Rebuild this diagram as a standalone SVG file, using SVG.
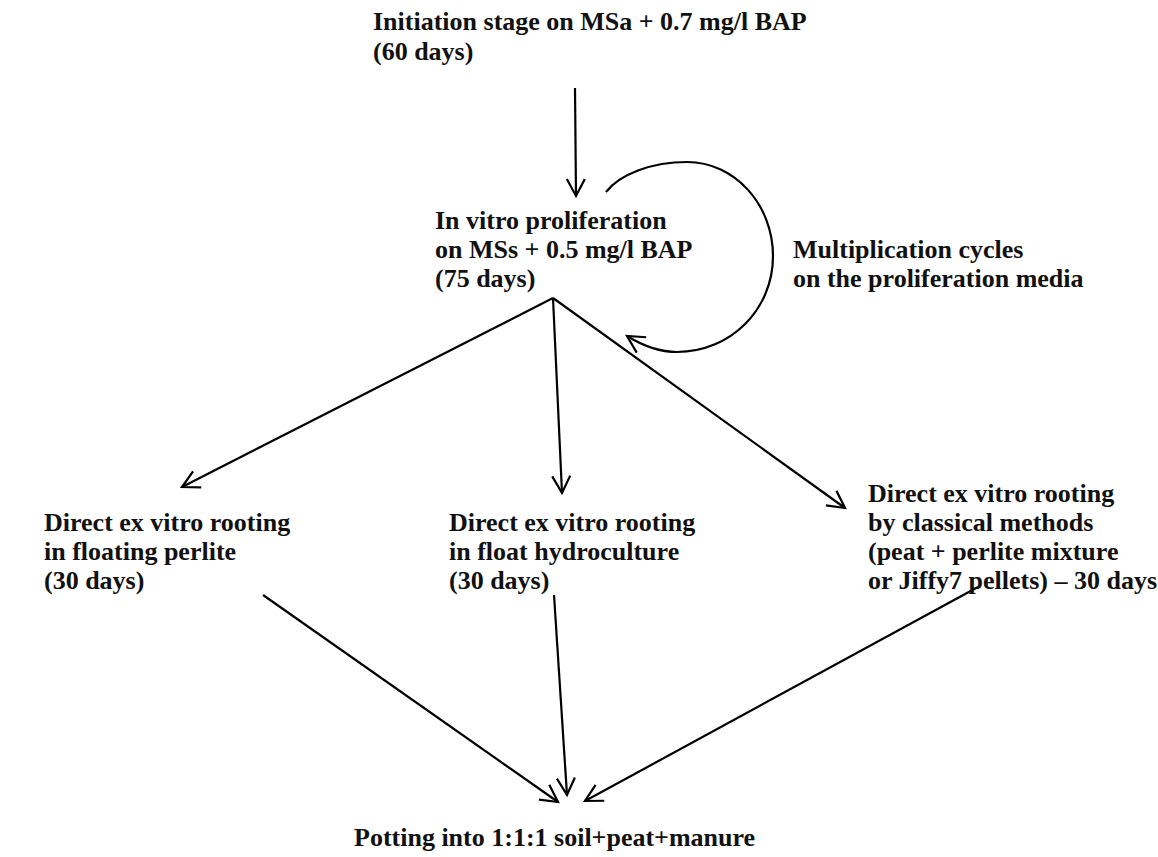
<svg xmlns="http://www.w3.org/2000/svg" width="1158" height="857" viewBox="0 0 1158 857">
<style>
text{font-family:"Liberation Serif","Times New Roman",serif;font-weight:bold;font-size:26px;fill:#111}
.c{fill:none;stroke:#000;stroke-width:2.2;marker-end:url(#ah)}
</style>
<defs>
<marker id="ah" markerUnits="userSpaceOnUse" markerWidth="40" markerHeight="40" viewBox="-20 -20 40 40" refX="0" refY="0" orient="auto">
<path d="M-17,-9 L0,0 L-17,9" fill="none" stroke="#000" stroke-width="2.2"/>
</marker>
</defs>
<rect width="1158" height="857" fill="#fff"/>
<g id="connectors">
<path class="c" d="M575,88 L576,196"/>
<path class="c" d="M606,192 C620,174 652,162 687,162 C735,162 773,205 773,256 C773,310 730,352 677,352 C658,352 640,344 627,336"/>
<path class="c" d="M553,298 L182,487"/>
<path class="c" d="M553,298 L562,493"/>
<path class="c" d="M553,298 L845,508"/>
<path class="c" d="M263,595 L558,802"/>
<path class="c" d="M554,595 L567,795"/>
<path class="c" d="M978,587 L585,801"/>
</g>
<g id="n-initiation">
<text x="373" y="30">Initiation stage on MSa + 0.7 mg/l BAP</text>
<text x="373" y="60">(60 days)</text>
</g>
<g id="n-proliferation">
<text x="435" y="229">In vitro proliferation</text>
<text x="435" y="258">on MSs + 0.5 mg/l BAP</text>
<text x="435" y="287">(75 days)</text>
</g>
<g id="n-cycles">
<text x="793" y="258">Multiplication cycles</text>
<text x="793" y="287">on the proliferation media</text>
</g>
<g id="n-perlite">
<text x="44" y="531">Direct ex vitro rooting</text>
<text x="44" y="560">in floating perlite</text>
<text x="44" y="589">(30 days)</text>
</g>
<g id="n-hydro">
<text x="449" y="531">Direct ex vitro rooting</text>
<text x="449" y="560">in float hydroculture</text>
<text x="449" y="589">(30 days)</text>
</g>
<g id="n-classical">
<text x="868" y="502">Direct ex vitro rooting</text>
<text x="868" y="531">by classical methods</text>
<text x="868" y="560">(peat + perlite mixture</text>
<text x="868" y="589">or Jiffy7 pellets) – 30 days</text>
</g>
<g id="n-potting">
<text x="354" y="846">Potting into 1:1:1 soil+peat+manure</text>
</g>
</svg>
